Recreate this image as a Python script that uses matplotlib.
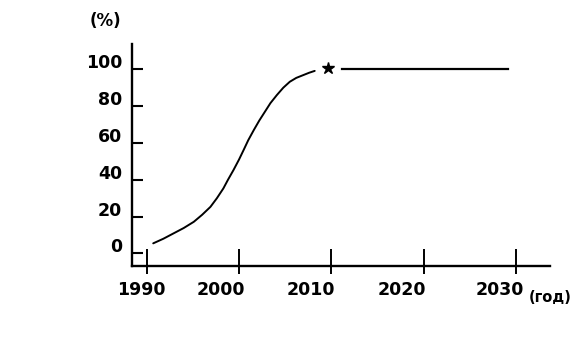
import matplotlib
matplotlib.use("Agg")
import matplotlib.pyplot as plt
import matplotlib.transforms as mtransforms

# Data
curve_years = [1990.7, 1991.8, 1992.9, 1994.0, 1995.1, 1996.0, 1996.9, 1997.6, 1998.3,
               1998.8, 1999.4, 2000.0, 2000.5, 2001.0, 2001.6, 2002.2, 2002.8, 2003.4,
               2004.1, 2004.8, 2005.5, 2006.2, 2007.0, 2007.6, 2008.2]
curve_pct = [5.5, 8.0, 10.9, 13.8, 17.2, 21.0, 25.3, 30.0, 35.3, 40.0, 45.3, 51.0, 56.2,
             61.5, 67.0, 72.2, 76.9, 81.6, 86.0, 90.0, 93.2, 95.3, 96.9, 98.1, 99.1]
star_year = [2009.6]
star_pct = [100.7]
flat_years = [2011.2, 2029.1]
flat_pct = [100.1, 100.1]
x_ticks = [1990, 2000, 2010, 2020, 2030]
x_labels = ["1990", "2000", "2010", "2020", "2030"]
y_ticks = [0, 20, 40, 60, 80, 100]
y_labels = ["0", "20", "40", "60", "80", "100"]

# horizontal shift (pixels) of each x tick label, as printed
x_label_shift_px = [-5, -18, -20, -22, -16]

plt.rcParams['font.family'] = ['DejaVu Sans']

W, H = 572, 339
fig = plt.figure(figsize=(W / 100, H / 100), dpi=100)
left, right, top, bottom = 132, 550, 44, 266
ax = fig.add_axes([left / W, 1 - bottom / H, (right - left) / W, (bottom - top) / H])

ax.plot(curve_years, curve_pct, color='black', lw=1.4, solid_capstyle='round',
        solid_joinstyle='round')
ax.plot(star_year, star_pct, marker='*', color='black', ms=9, ls='none')
ax.plot(flat_years, flat_pct, color='black', lw=1.6)

ax.set_xlim(1988.4, 2033.7)
ax.set_ylim(-6.8, 113.7)

for s in ['top', 'right']:
    ax.spines[s].set_visible(False)
for s in ['left', 'bottom']:
    ax.spines[s].set_linewidth(1.7)

ax.set_xticks(x_ticks)
ax.set_xticklabels(x_labels, fontsize=12.5, fontweight='bold')
ax.xaxis.remove_overlapping_locs = False
ax.set_xticks(x_ticks, minor=True)
ax.tick_params(axis='x', which='major', direction='in', length=12, width=1.4, pad=11)
ax.tick_params(axis='x', which='minor', direction='out', length=6, width=1.4)
for lab, dx in zip(ax.get_xticklabels(), x_label_shift_px):
    lab.set_transform(lab.get_transform() +
                      mtransforms.ScaledTranslation(dx / 100, 0, fig.dpi_scale_trans))

ax.set_yticks(y_ticks)
ax.set_yticklabels(y_labels, fontsize=12.5, fontweight='bold')
ax.tick_params(axis='y', which='major', direction='in', length=8, width=1.5, pad=7)
offset = mtransforms.ScaledTranslation(0, 8 / 100, fig.dpi_scale_trans)
for lab in ax.get_yticklabels():
    lab.set_transform(lab.get_transform() + offset)

fig.text(105 / W, 1 - 21 / H, "(%)", fontsize=12, fontweight='bold', ha='center', va='center')
fig.text(550 / W, 1 - 297 / H, "(год)", fontsize=10.5, fontweight='bold', ha='center', va='center')

fig.savefig("out.png", dpi=100)
